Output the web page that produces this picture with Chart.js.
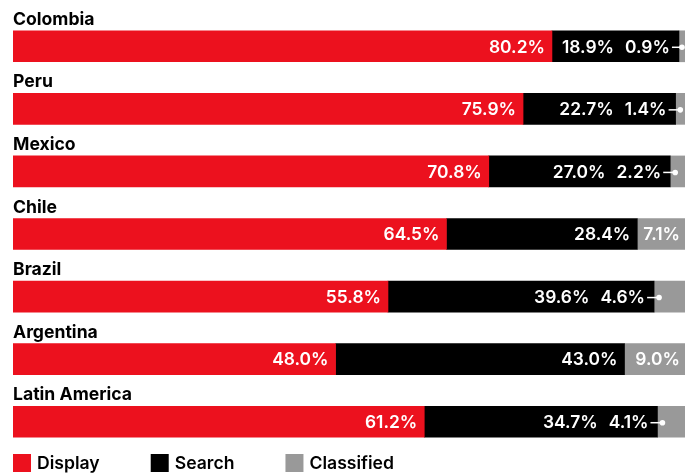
<!DOCTYPE html>
<html>
<head>
<meta charset="utf-8">
<script src="https://cdn.jsdelivr.net/npm/chart.js@4.4.1/dist/chart.umd.min.js"></script>
<style>
  html, body { margin: 0; padding: 0; background: #fff; }
  #wrap { width: 693px; height: 476px; }
</style>
</head>
<body>
<div id="wrap"><canvas id="chart" width="693" height="476"></canvas></div>
<script>
// 各国数字广告支出构成 (%)
const countries = ['Colombia', 'Peru', 'Mexico', 'Chile', 'Brazil', 'Argentina', 'Latin America']
const display = [80.2, 75.9, 70.8, 64.5, 55.8, 48.0, 61.2]
const search = [18.9, 22.7, 27.0, 28.4, 39.6, 43.0, 34.7]
const classified = [0.9, 1.4, 2.2, 7.1, 4.6, 9.0, 4.1]

const seriesNames = ['Display', 'Search', 'Classified']
const seriesColors = ['#EC111E', '#000000', '#999999']

const FONT = 'Inter, "Open Sans", sans-serif'

/**
 * 画标签：国家名、分段数值、底部图例
 */
const labelPlugin = {
  id: 'labels',
  afterDatasetsDraw (chart) {
    const ctx = chart.ctx
    const area = chart.chartArea
    const metas = [0, 1, 2].map(i => chart.getDatasetMeta(i))

    ctx.save()

    // 国家名，放在条形上方
    ctx.fillStyle = '#000'
    ctx.font = '700 17.6px ' + FONT
    ctx.textAlign = 'left'
    ctx.textBaseline = 'alphabetic'
    metas[0].data.forEach((bar, i) => {
      const top = bar.y - bar.height / 2
      ctx.fillText(countries[i], area.left, top - 6)
    })

    // 分段数值
    ctx.font = '600 17.4px ' + FONT
    ctx.textBaseline = 'middle'
    ctx.textAlign = 'right'
    countries.forEach((c, i) => {
      const red = metas[0].data[i]
      const blk = metas[1].data[i]
      const gry = metas[2].data[i]
      const y = red.y + 1

      ctx.fillStyle = '#fff'
      ctx.fillText(display[i].toFixed(1) + '%', red.x - 7, y)

      const grayVal = classified[i]
      if (grayVal >= 5) {
        ctx.fillText(search[i].toFixed(1) + '%', blk.x - 7, y)
        ctx.fillText(grayVal.toFixed(1) + '%', gry.x - 5, y)
      } else {
        // 灰色段太窄，数值放进黑色段，用小圆点连过去
        const grayText = grayVal.toFixed(1) + '%'
        const gx = blk.x - 9
        ctx.fillText(grayText, gx, y)
        const w = ctx.measureText(grayText).width
        ctx.fillText(search[i].toFixed(1) + '%', gx - w - 11, y)

        const segW = gry.x - gry.base
        const dotX = gry.base + Math.min(5, segW / 2)
        ctx.strokeStyle = '#fff'
        ctx.lineWidth = 1.5
        ctx.beginPath()
        ctx.moveTo(gx + 2, y)
        ctx.lineTo(dotX, y)
        ctx.stroke()
        ctx.beginPath()
        ctx.arc(dotX, y, 2.8, 0, Math.PI * 2)
        ctx.fill()
      }
    })

    // 图例
    ctx.font = '600 17.6px ' + FONT
    ctx.textAlign = 'left'
    ctx.textBaseline = 'middle'
    let x = area.left
    const ly = 463
    seriesNames.forEach((name, i) => {
      ctx.fillStyle = seriesColors[i]
      ctx.fillRect(x, ly - 9, 18, 18)
      ctx.fillStyle = '#000'
      ctx.fillText(name, x + 24, ly + 1)
      x += 24 + ctx.measureText(name).width + 51
    })

    ctx.restore()
  }
}

const datasets = [display, search, classified].map((values, i) => ({
  label: seriesNames[i],
  data: values,
  backgroundColor: seriesColors[i],
  borderWidth: 0,
  barThickness: 31,
  categoryPercentage: 1
}))

new Chart(document.getElementById('chart'), {
  type: 'bar',
  data: { labels: countries, datasets },
  options: {
    indexAxis: 'y',
    responsive: false,
    animation: false,
    layout: { padding: { top: 15, bottom: 23, left: 13, right: 8 } },
    scales: {
      x: { stacked: true, min: 0, max: 100, display: false },
      y: { stacked: true, display: false }
    },
    plugins: {
      legend: { display: false },
      tooltip: { enabled: false }
    }
  },
  plugins: [labelPlugin]
})
</script>
</body>
</html>
